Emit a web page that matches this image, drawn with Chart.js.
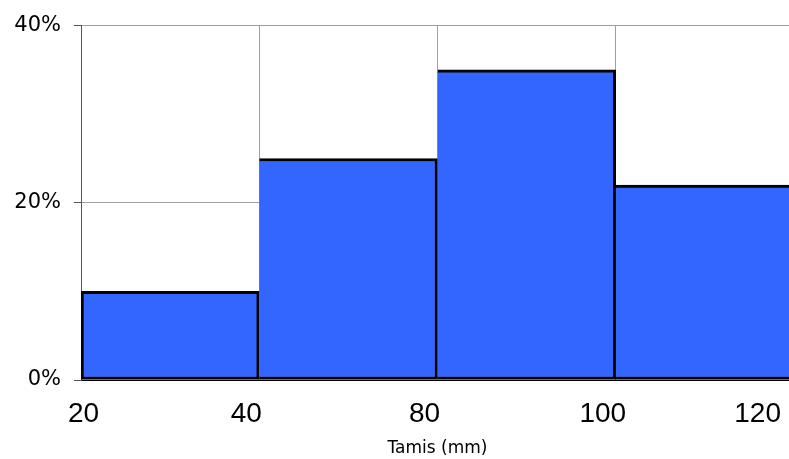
<!DOCTYPE html>
<html>
<head>
<meta charset="utf-8">
<script src="https://cdn.jsdelivr.net/npm/chart.js@4"></script>
<style>
html,body{margin:0;padding:0;background:#fff;overflow:hidden;}
#wrap{width:811px;height:459px;}
</style>
</head>
<body>
<div id="wrap"><canvas id="c" width="811" height="459"></canvas></div>
<script>
// Data
const edgeLabels = ["20", "40", "80", "100", "120"];   // tamis boundaries
const binCenters = [0.5, 1.5, 2.5, 3.5];                // bin index centres between boundaries
const percentages = [10, 25, 35, 22];                    // % per bin
const yTicks = [0, 20, 40];

const points = binCenters.map((x, i) => ({x: x, y: percentages[i]}));

new Chart(document.getElementById('c'), {
  type: 'bar',
  data: {
    datasets: [{
      data: points,
      backgroundColor: '#3366FF',
      borderColor: '#000000',
      borderWidth: 3,
      borderSkipped: ctx => ctx.dataIndex > 0 ? 'left' : false,
      barPercentage: 1,
      categoryPercentage: 1
    }]
  },
  options: {
    responsive: false,
    devicePixelRatio: 1,
    animation: false,
    layout: {padding: {left: 0, right: 0, top: 24, bottom: 0}},
    plugins: {legend: {display: false}, tooltip: {enabled: false}},
    scales: {
      x: {
        type: 'linear',
        offset: false,
        min: 0,
        max: edgeLabels.length - 1,
        afterBuildTicks: s => { s.ticks = edgeLabels.map((l, i) => ({value: i})); },
        ticks: {
          callback: (v) => edgeLabels[v],
          align: 'inner',
          labelOffset: -13,
          maxRotation: 0,
          autoSkip: false,
          padding: 17,
          color: '#000',
          font: {family: 'Liberation Sans', size: 28}
        },
        grid: {color: '#a0a0a0', lineWidth: 1, drawTicks: false, offset: false},
        border: {color: '#000', width: 1},
        title: {
          display: true,
          text: 'Tamis (mm)',
          color: '#000',
          font: {family: 'DejaVu Sans', size: 17},
          padding: {top: 2, bottom: 0}
        },
        afterFit: s => { s.height = 79; }
      },
      y: {
        min: 0,
        max: 40,
        afterBuildTicks: s => { s.ticks = yTicks.map(v => ({value: v})); },
        ticks: {
          callback: v => v + '%',
          padding: 13,
          color: '#000',
          font: {family: 'DejaVu Sans', size: 21}
        },
        grid: {color: '#a0a0a0', lineWidth: 1, tickLength: 7, tickColor: '#555'},
        border: {color: '#555', width: 1},
        afterFit: s => { s.width = 81; }
      }
    }
  }
});
</script>
</body>
</html>
